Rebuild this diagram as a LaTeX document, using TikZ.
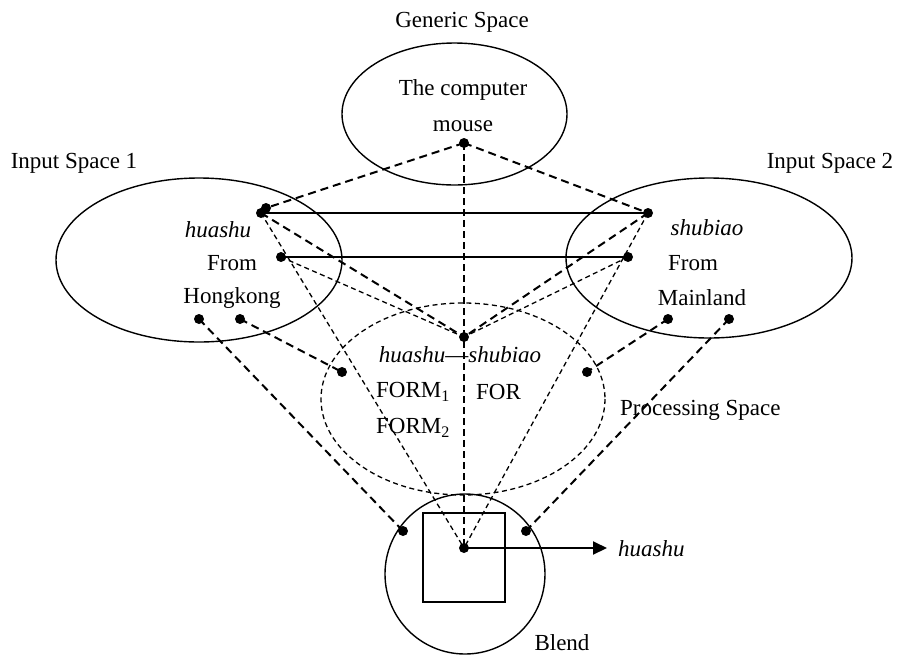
\documentclass[tikz,border=0pt]{standalone}
\usepackage{fontspec}
\setmainfont{Liberation Serif}
\usetikzlibrary{arrows.meta}
\begin{document}
\begin{tikzpicture}[x=1pt,y=-1pt,
  every node/.style={font=\fontsize{23}{28}\selectfont, inner sep=0pt},
  dot/.style={circle, fill=black, minimum size=10pt, inner sep=0pt},
  space/.style={line width=1.4pt},
  thickdash/.style={line width=2pt, dash pattern=on 8pt off 5pt},
  vdash/.style={line width=2pt, dash pattern=on 7pt off 4pt},
  thindash/.style={line width=1.3pt, dash pattern=on 5pt off 3.5pt},
  solidlink/.style={line width=1.6pt},
  lbl/.style={anchor=center}]
\useasboundingbox (0,0) rectangle (898,657);
% spaces
\draw[space] (454.5,114) ellipse [x radius=112.5, y radius=71];
\draw[space] (199,260) ellipse [x radius=143, y radius=82];
\draw[space] (709,258) ellipse [x radius=143, y radius=80];
\draw[thindash] (463,399) ellipse [x radius=142, y radius=96];
\draw[space] (465,574) circle [radius=80];
\draw[line width=1.3pt] (423,513) rectangle (505,602);
% labels
\node[lbl] (lgen) at (462,22) {Generic Space};
\node[lbl] (lgen1) at (463,90) {The computer};
\node[lbl] (lgen2) at (463,126) {mouse};
\node[lbl] (lin1) at (74,163) {Input Space 1};
\node[lbl] (lin2) at (830,163) {Input Space 2};
\node[lbl] (t11) at (218,230) {\textit{huashu}};
\node[lbl] (t12) at (232,263) {From};
\node[lbl] (t13) at (232,298) {Hongkong};
\node[lbl] (t21) at (707,228) {\textit{shubiao}};
\node[lbl] (t22) at (693,263) {From};
\node[lbl] (t23) at (702,298) {Mainland};
\node[lbl] (tp1) at (460,355) {\textit{huashu}—\textit{shubiao}};
\node[anchor=west] (tp2) at (376,392) {FORM\textsubscript{1}};
\node[anchor=west] (tp3) at (476,392) {FOR};
\node[anchor=west] (tp4) at (376,428) {FORM\textsubscript{2}};
\node[anchor=west] (lproc) at (620,410) {Processing Space};
\node[lbl] (lblend) at (562,643) {Blend};
\node[anchor=west] (tout) at (618,549) {\textit{huashu}};
% dots
\node[dot] (g) at (464,143) {};
\node[dot] (a1) at (261,213) {};
\node[dot] (a1b) at (266,208) {};
\node[dot] (a2) at (281,257) {};
\node[dot] (a3) at (199,319) {};
\node[dot] (a4) at (240,319) {};
\node[dot] (b1) at (648,213) {};
\node[dot] (b2) at (628,257) {};
\node[dot] (b3) at (668,319) {};
\node[dot] (b4) at (729,319) {};
\node[dot] (p) at (464,337) {};
\node[dot] (pl) at (342,372) {};
\node[dot] (pr) at (587,372) {};
\node[dot] (c) at (464,548) {};
\node[dot] (cl) at (403,531) {};
\node[dot] (cr) at (526,531) {};
\coordinate (arrend) at (607,548);
% connectors
\draw[solidlink] (a1.center) -- (b1.center);
\draw[solidlink] (a2.center) -- (b2.center);
\draw[thickdash] (g.center) -- (a1b.center);
\draw[thickdash] (g.center) -- (b1.center);
\draw[vdash] (g.center) -- (c.center);
\draw[thickdash] (a1.center) -- (p.center);
\draw[thickdash] (b1.center) -- (p.center);
\draw[thindash] (a2.center) -- (p.center);
\draw[thindash] (b2.center) -- (p.center);
\draw[thindash] (a1.center) -- (c.center);
\draw[thindash] (b1.center) -- (c.center);
\draw[thickdash] (a4.center) -- (pl.center);
\draw[thickdash] (a3.center) -- (cl.center);
\draw[thickdash] (b3.center) -- (pr.center);
\draw[thickdash] (b4.center) -- (cr.center);
\draw[line width=2pt, -{Triangle[length=14pt,width=13pt]}] (c.center) -- (arrend);
\end{tikzpicture}
\end{document}
